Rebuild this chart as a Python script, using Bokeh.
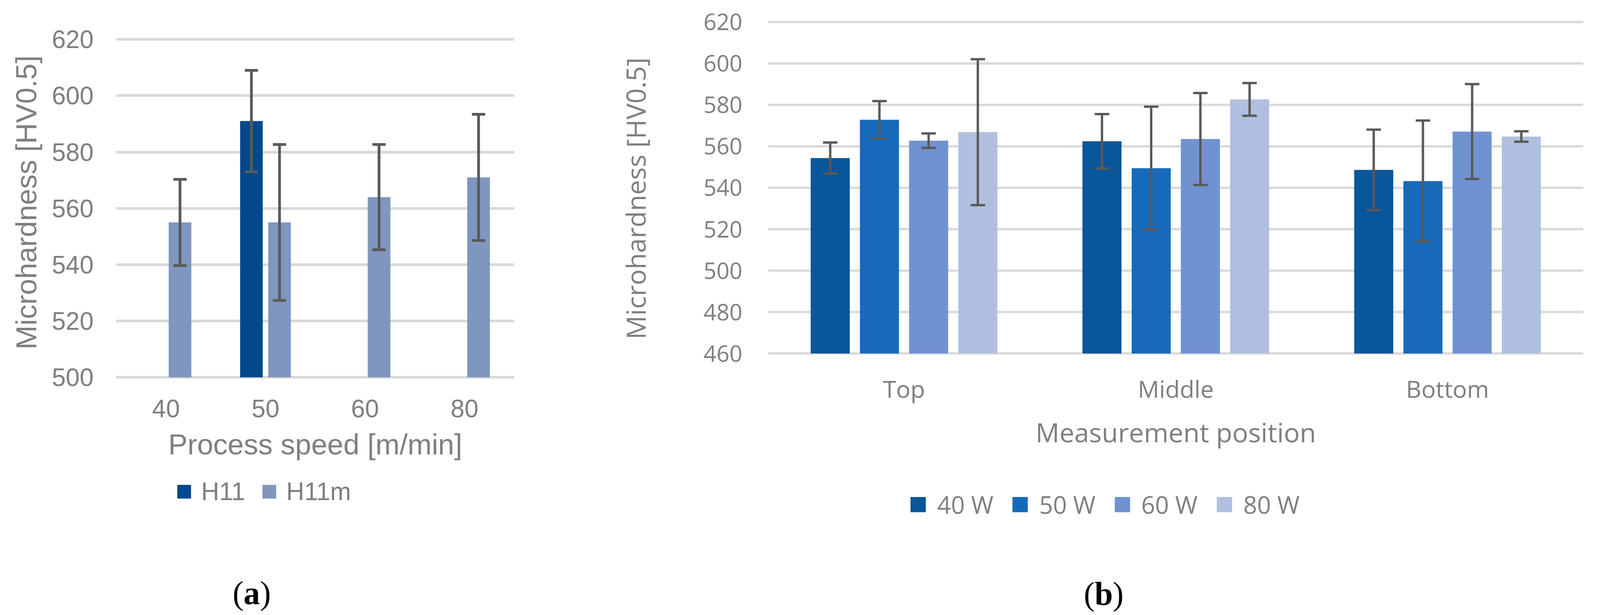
import numpy as np
from bokeh.plotting import figure
from bokeh.models import (ColumnDataSource, FactorRange, Range1d, FixedTicker,
                          Legend, LegendItem, Label)
from bokeh.transform import dodge
from bokeh.layouts import row, column
from bokeh.embed import file_html
from bokeh.resources import INLINE

# ---------------- data: panel (a) ----------------
speeds = ["40", "50", "60", "80"]
h11_mean = [np.nan, 591.0, np.nan, np.nan]
h11_sd = [np.nan, 18.0, np.nan, np.nan]
h11m_mean = [555.0, 555.0, 564.0, 571.0]
h11m_sd = [15.3, 27.7, 18.7, 22.4]
ticks_a = [500, 520, 540, 560, 580, 600, 620]

# ---------------- data: panel (b) ----------------
positions = ["Top", "Middle", "Bottom"]
powers = ["40 W", "50 W", "60 W", "80 W"]
w40_mean = [554.3, 562.4, 548.6]
w40_sd = [7.5, 13.1, 19.4]
w50_mean = [572.8, 549.4, 543.2]
w50_sd = [9.0, 29.7, 29.2]
w60_mean = [562.7, 563.5, 567.1]
w60_sd = [3.5, 22.2, 22.9]
w80_mean = [566.8, 582.6, 564.7]
w80_sd = [35.2, 7.9, 2.5]
ticks_b = [460, 480, 500, 520, 540, 560, 580, 600, 620]

TEXT = "#7F7F7F"
GRID = "#D9D9D9"
ERR = "#595959"
SANS_A = "Liberation Sans"
SANS_B = "Open Sans"
SERIF = "Liberation Serif"

H1 = 1215          # chart row
H2 = 1572 - H1     # legend / caption row
TOP = 45
BOTTOM = H1 - 970
WA, WB = 1500, 2606
LA, RA = 297, 184
LB, RB = 466, 53


def style_axes(p, font, tick_x, tick_y, title_size, grid_w):
    p.outline_line_color = None
    p.background_fill_color = "white"
    p.border_fill_color = "white"
    p.xgrid.grid_line_color = None
    p.ygrid.grid_line_color = GRID
    p.ygrid.grid_line_width = grid_w
    for ax in (p.xaxis[0], p.yaxis[0]):
        ax.axis_line_color = None
        ax.major_tick_line_color = None
        ax.minor_tick_line_color = None
        ax.major_tick_out = 0
        ax.major_tick_in = 0
        ax.major_label_text_font = font
        ax.major_label_text_color = TEXT
        ax.axis_label_text_font = font
        ax.axis_label_text_color = TEXT
        ax.axis_label_text_font_style = "normal"
        ax.axis_label_text_font_size = title_size
    p.xaxis[0].major_label_text_font_size = tick_x
    p.yaxis[0].major_label_text_font_size = tick_y


def add_err(p, src, off, cap, lw):
    xs = dodge("cat", off, range=p.x_range)
    p.segment(x0=xs, y0="lo", x1=xs, y1="hi", source=src,
              line_color=ERR, line_width=lw)
    p.scatter(x=xs, y="hi", marker="dash", size=cap, source=src,
              line_color=ERR, line_width=lw)
    p.scatter(x=xs, y="lo", marker="dash", size=cap, source=src,
              line_color=ERR, line_width=lw)


def bottom_fig(width, left, right, x_range):
    f = figure(width=width, height=H2, x_range=x_range, y_range=Range1d(0, 1),
               output_backend="svg", toolbar_location=None,
               x_axis_location=None, y_axis_location=None,
               min_border_left=left, min_border_right=right,
               min_border_top=0, min_border_bottom=0)
    f.outline_line_color = None
    f.grid.visible = False
    f.background_fill_color = "white"
    f.border_fill_color = "white"
    return f


def add_tag(p, letter, cx, y, half):
    for txt, x, align, style in (("(", cx - half, "right", "normal"),
                                 (letter, cx, "center", "bold"),
                                 (")", cx + half, "left", "normal")):
        p.add_layout(Label(x=x, y=y, x_units="screen", y_units="screen",
                           text=txt, text_align=align, text_baseline="middle",
                           text_font=SERIF, text_font_size="84px",
                           text_font_style=style, text_color="black"))


# ================= panel (a) =================
xr_a = FactorRange(factors=speeds, range_padding=0)
pa = figure(width=WA, height=H1, x_range=xr_a,
            y_range=Range1d(499.35, 627.67),
            output_backend="svg", toolbar_location=None,
            min_border_left=LA, min_border_right=RA,
            min_border_top=TOP, min_border_bottom=BOTTOM)
style_axes(pa, SANS_A, "64px", "64px", "74px", 7)
pa.yaxis[0].ticker = FixedTicker(ticks=ticks_a)
pa.yaxis[0].bounds = (ticks_a[0], ticks_a[-1])
pa.yaxis[0].major_label_standoff = 58
pa.yaxis[0].axis_label = "Microhardness  [HV0.5]"
pa.yaxis[0].axis_label_standoff = 21
pa.xaxis[0].major_label_standoff = 52
pa.xaxis[0].axis_label = "Process speed [m/min]"
pa.xaxis[0].axis_label_standoff = 25

qa = bottom_fig(WA, LA, RA, xr_a)

a_series = [("H11", h11_mean, h11_sd, "#02488C", -0.1412),
            ("H11m", h11m_mean, h11m_sd, "#7F96BE", 0.1412)]
bw_a = 0.2275
a_items = []
a_srcs = []
for name, m, s, col, off in a_series:
    m = np.array(m, dtype=float)
    s = np.array(s, dtype=float)
    src = ColumnDataSource(dict(cat=speeds, top=m, lo=m - s, hi=m + s))
    a_srcs.append((src, off))
    pa.vbar(x=dodge("cat", off, range=xr_a), top="top", bottom=ticks_a[0],
            width=bw_a, source=src, fill_color=col, line_color=None)
    key = qa.scatter(x=dodge("cat", off, range=xr_a), y="top", source=src,
                     marker="square", size=0, fill_color=col, line_color=None)
    a_items.append(LegendItem(label=name, renderers=[key]))
for src, off in a_srcs:
    add_err(pa, src, off, 34, 7)

leg_a = Legend(items=a_items, location=(130, 270), orientation="horizontal",
               glyph_width=88, glyph_height=88, label_standoff=-10, spacing=17,
               padding=0, margin=0, border_line_color=None,
               background_fill_alpha=0,
               label_text_font=SANS_A, label_text_font_size="64px",
               label_text_color=TEXT)
qa.add_layout(leg_a)
add_tag(qa, "a", 347, 55, 21)

# ================= panel (b) =================
xr_b = FactorRange(factors=positions, range_padding=0)
pb = figure(width=WB, height=H1, x_range=xr_b,
            y_range=Range1d(447.62, 621.98),
            output_backend="svg", toolbar_location=None,
            min_border_left=LB, min_border_right=RB,
            min_border_top=TOP, min_border_bottom=BOTTOM)
style_axes(pb, SANS_B, "61px", "58px", "68px", 6)
pb.yaxis[0].ticker = FixedTicker(ticks=ticks_b)
pb.yaxis[0].bounds = (ticks_b[0], ticks_b[-1])
pb.yaxis[0].major_label_standoff = 66
pb.yaxis[0].axis_label = "Microhardness [HV0.5]"
pb.yaxis[0].axis_label_standoff = 125
pb.xaxis[0].major_label_standoff = -18
pb.xaxis[0].axis_label = "Measurement position"
pb.xaxis[0].axis_label_standoff = 20

qb = bottom_fig(WB, LB, RB, xr_b)

b_series = [(w40_mean, w40_sd, "#0A569B", -0.2716),
            (w50_mean, w50_sd, "#166AB9", -0.0905),
            (w60_mean, w60_sd, "#7092D0", 0.0905),
            (w80_mean, w80_sd, "#B0BFE0", 0.2716)]
bw_b = 0.1437
b_items = []
b_srcs = []
for name, (m, s, col, off) in zip(powers, b_series):
    m = np.array(m, dtype=float)
    s = np.array(s, dtype=float)
    src = ColumnDataSource(dict(cat=positions, top=m, lo=m - s, hi=m + s))
    b_srcs.append((src, off))
    pb.vbar(x=dodge("cat", off, range=xr_b), top="top", bottom=ticks_b[0],
            width=bw_b, source=src, fill_color=col, line_color=None)
    key = qb.scatter(x=dodge("cat", off, range=xr_b), y="top", source=src,
                     marker="square", size=0, fill_color=col, line_color=None)
    b_items.append(LegendItem(label=name, renderers=[key]))
for src, off in b_srcs:
    add_err(pb, src, off, 37, 6)

leg_b = Legend(items=b_items, location=(335, 232), orientation="horizontal",
               glyph_width=98, glyph_height=98, label_standoff=-13, spacing=19,
               padding=0, margin=0, border_line_color=None,
               background_fill_alpha=0,
               label_text_font=SANS_B, label_text_font_size="62px",
               label_text_color=TEXT)
qb.add_layout(leg_b)
add_tag(qb, "b", 859, 53, 23)

layout = column(row(pa, pb), row(qa, qb))
open("out.html", "w").write(file_html(layout, INLINE))
